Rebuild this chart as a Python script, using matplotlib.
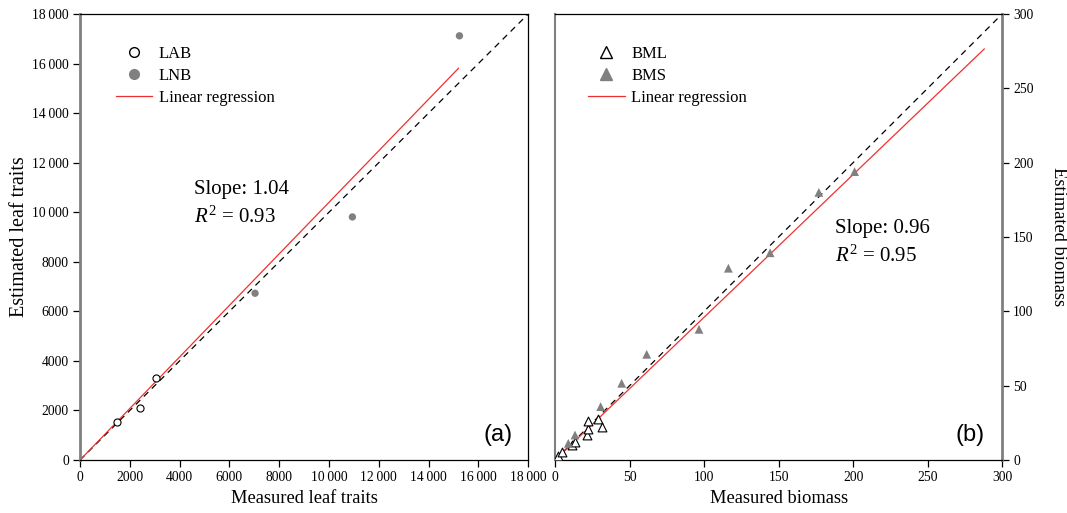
import matplotlib
matplotlib.use("Agg")
import matplotlib.pyplot as plt
from matplotlib.lines import Line2D
import numpy as np

plt.rcParams["font.family"] = ["Liberation Serif", "DejaVu Serif"]
plt.rcParams["mathtext.fontset"] = "custom"
plt.rcParams["mathtext.rm"] = "Liberation Serif"
plt.rcParams["mathtext.it"] = "Liberation Serif:italic"

# Panel (a): leaf traits
lab_measured = [1470, 2410, 3050]
lab_estimated = [1550, 2110, 3300]
lnb_measured = [7030, 10940, 15240]
lnb_estimated = [6730, 9810, 17120]
slope_a = 1.04
r2_a = 0.93
fit_a_max = 15200
ticks_a = [0, 2000, 4000, 6000, 8000, 10000, 12000, 14000, 16000, 18000]
ticklabels_a = ["0", "2000", "4000", "6000", "8000", "10\u2009000", "12\u2009000",
                "14\u2009000", "16\u2009000", "18\u2009000"]

# Panel (b): biomass
bml_measured = [2, 4.5, 11.4, 13.4, 21.3, 21.9, 21.9, 29.1, 31.3]
bml_estimated = [2.7, 5.6, 10, 11.9, 16.6, 20.9, 26, 27.6, 22]
bms_measured = [8.9, 13.4, 30.6, 44.7, 61.5, 96.6, 116.3, 144.3, 177, 201]
bms_estimated = [11.2, 16.8, 35.9, 51.6, 71.1, 87.9, 129, 139.4, 180, 194]
slope_b = 0.96
r2_b = 0.95
fit_b_max = 288
ticks_b = [0, 50, 100, 150, 200, 250, 300]

GRAY = "#808080"
RED = "#f03030"

fig = plt.figure(figsize=(10.67, 5.13), dpi=100)
ax1 = fig.add_axes([0.075, 0.1033, 0.42, 0.8694])
ax2 = fig.add_axes([0.5202, 0.1033, 0.419, 0.8694])


def style_axes(ax, yside):
    for s in ax.spines.values():
        s.set_color("black")
        s.set_linewidth(0.9)
    ax.spines[yside].set_color(GRAY)
    ax.spines[yside].set_linewidth(2.0)
    ax.tick_params(direction="out", length=5, width=0.9, labelsize=9.8, pad=3)


# ---- panel (a)
ax1.set_xlim(0, 18000)
ax1.set_ylim(0, 18000)
ax1.plot([0, 18000], [0, 18000], color="black", lw=0.9, dashes=(5, 4), zorder=1)
xa = np.array([0, fit_a_max])
ax1.plot(xa, slope_a * xa, color=RED, lw=0.9, zorder=2)
ax1.scatter(lab_measured, lab_estimated, s=26, facecolors="white",
            edgecolors="black", linewidths=0.8, zorder=3)
ax1.scatter(lnb_measured, lnb_estimated, s=28, color=GRAY, edgecolors="none", zorder=3)
ax1.set_xticks(ticks_a)
ax1.set_xticklabels(ticklabels_a)
ax1.set_yticks(ticks_a)
ax1.set_yticklabels(ticklabels_a)
style_axes(ax1, "left")
ax1.set_xlabel("Measured leaf traits", fontsize=13.3, labelpad=4)
ax1.set_ylabel("Estimated leaf traits", fontsize=14.5, labelpad=2)
handles_a = [
    Line2D([], [], ls="none", marker="o", markersize=7, markerfacecolor="white",
           markeredgecolor="black", markeredgewidth=1.0),
    Line2D([], [], ls="none", marker="o", markersize=7, markerfacecolor=GRAY,
           markeredgecolor=GRAY),
    Line2D([], [], color=RED, lw=0.9),
]
ax1.legend(handles_a, ["LAB", "LNB", "Linear regression"], loc="upper left",
           bbox_to_anchor=(0.046, 0.962), frameon=False, fontsize=12,
           handlelength=2.2, handletextpad=0.4, labelspacing=0.36)
ax1.text(0.255, 0.607, "Slope: 1.04", transform=ax1.transAxes, fontsize=15,
         va="center", ha="left")
ax1.text(0.255, 0.545, r"$R^{2}$ = 0.93", transform=ax1.transAxes, fontsize=15,
         va="center", ha="left")
ax1.text(0.965, 0.057, "(a)", transform=ax1.transAxes, fontsize=17,
         family=["Liberation Sans"], ha="right", va="center")

# ---- panel (b)
ax2.set_xlim(0, 300)
ax2.set_ylim(0, 300)
ax2.plot([0, 300], [0, 300], color="black", lw=0.9, dashes=(5, 4), zorder=1)
xb = np.array([0, fit_b_max])
ax2.plot(xb, slope_b * xb, color=RED, lw=0.9, zorder=2)
ax2.scatter(bml_measured, bml_estimated, s=40, marker="^", facecolors="white",
            edgecolors="black", linewidths=0.8, zorder=3)
ax2.scatter(bms_measured, bms_estimated, s=40, marker="^", color=GRAY,
            edgecolors="none", zorder=3)
ax2.set_xticks(ticks_b)
ax2.set_yticks(ticks_b)
ax2.yaxis.tick_right()
ax2.yaxis.set_label_position("right")
style_axes(ax2, "right")
ax2.spines["left"].set_color(GRAY)
ax2.spines["left"].set_linewidth(1.5)
ax2.set_xlabel("Measured biomass", fontsize=13.3, labelpad=4)
ax2.set_ylabel("Estimated biomass", fontsize=13.3, rotation=-90, labelpad=24)
handles_b = [
    Line2D([], [], ls="none", marker="^", markersize=8, markerfacecolor="white",
           markeredgecolor="black", markeredgewidth=1.0),
    Line2D([], [], ls="none", marker="^", markersize=8, markerfacecolor=GRAY,
           markeredgecolor=GRAY),
    Line2D([], [], color=RED, lw=0.9),
]
ax2.legend(handles_b, ["BML", "BMS", "Linear regression"], loc="upper left",
           bbox_to_anchor=(0.04, 0.962), frameon=False, fontsize=12,
           handlelength=2.2, handletextpad=0.4, labelspacing=0.36)
ax2.text(0.626, 0.52, "Slope: 0.96", transform=ax2.transAxes, fontsize=15,
         va="center", ha="left")
ax2.text(0.626, 0.458, r"$R^{2}$ = 0.95", transform=ax2.transAxes, fontsize=15,
         va="center", ha="left")
ax2.text(0.96, 0.057, "(b)", transform=ax2.transAxes, fontsize=17,
         family=["Liberation Sans"], ha="right", va="center")

fig.savefig("out.png", dpi=100)
